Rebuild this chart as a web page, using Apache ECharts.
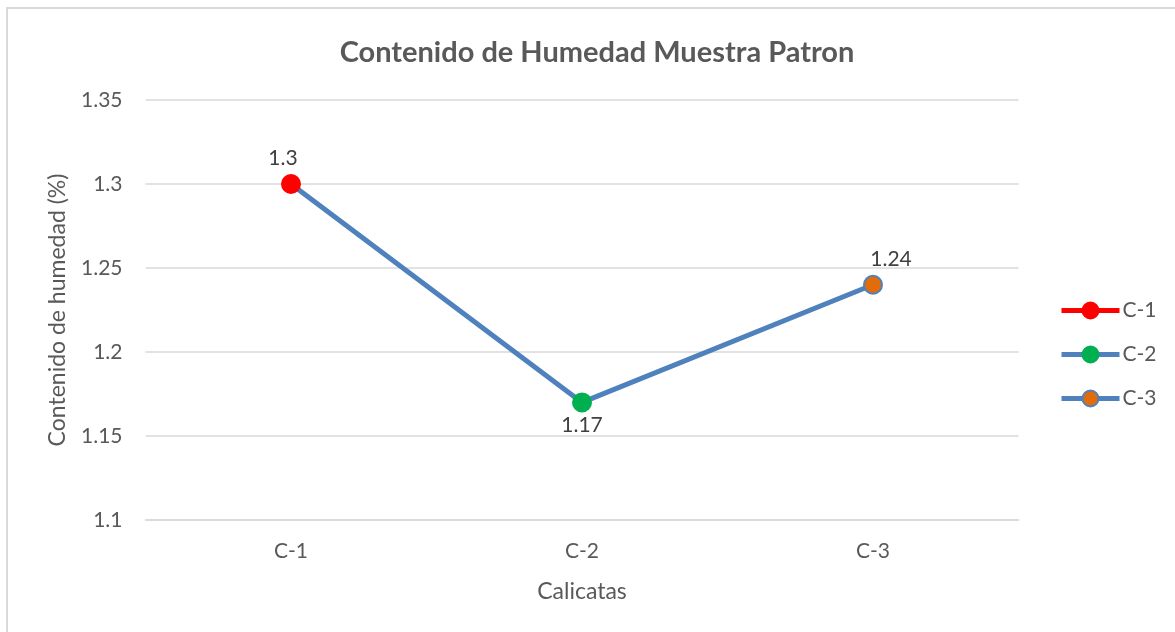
<!DOCTYPE html>
<html><head><meta charset="utf-8">
<script src="https://cdn.jsdelivr.net/npm/echarts@6/dist/echarts.min.js"></script>
<style>html,body{margin:0;padding:0;background:#fff;}#c{width:1175px;height:632px;}</style>
</head><body><div id="c"></div>
<script>
const categories = ['C-1', 'C-2', 'C-3'];
const values = [1.3, 1.17, 1.24];
const pointColors = ['#FF0000', '#00B050', '#E36C0A'];
const pointBorders = ['#FF0000', '#00B050', '#4F81BD'];
const legendLineColors = ['#FF0000', '#4F81BD', '#4F81BD'];
const yTicks = [1.1, 1.15, 1.2, 1.25, 1.3, 1.35];
const labelPositions = ['top', 'bottom', 'top'];
const labelOffsets = [[-8, 0], [0, -3], [18, 0]];

const FONT = 'Lato';
const TXT = '#595959';
const chart = echarts.init(document.getElementById('c'));

const dataPoints = values.map((v, i) => ({
  value: v,
  itemStyle: { color: pointColors[i], borderColor: pointBorders[i], borderWidth: 2 },
  label: { position: labelPositions[i], offset: labelOffsets[i] }
}));

const legendSeries = categories.map((c, i) => ({
  name: c, type: 'line', data: [],
  symbol: 'circle', symbolSize: 14,
  lineStyle: { color: legendLineColors[i], width: 5 },
  itemStyle: { color: pointColors[i], borderColor: pointBorders[i], borderWidth: 2 }
}));

chart.setOption({
  animation: false,
  backgroundColor: '#fff',
  textStyle: { fontFamily: FONT },
  graphic: [{ type: 'rect', shape: { x: 7, y: 8, width: 1300, height: 800 },
    style: { fill: 'none', stroke: '#d9d9d9', lineWidth: 2 }, silent: true }],
  title: { text: 'Contenido de Humedad Muestra Patron', left: 592, top: 33, textAlign: 'center',
    textStyle: { fontFamily: FONT, fontSize: 29, fontWeight: 'bold', color: TXT } },
  legend: { orient: 'vertical', left: 1054, top: 295, itemGap: 23, itemWidth: 58, itemHeight: 20,
    lineStyle: { width: 5 },
    data: categories, textStyle: { fontFamily: FONT, fontSize: 21, color: TXT, padding: [0, 0, 0, -2] } },
  grid: { left: 145.5, right: 156.5, top: 100, bottom: 112, containLabel: false },
  xAxis: { type: 'category', data: categories, boundaryGap: true,
    name: 'Calicatas', nameLocation: 'middle', nameGap: 60,
    nameTextStyle: { fontFamily: FONT, fontSize: 23, color: TXT },
    axisLine: { show: true, lineStyle: { color: '#d9d9d9', width: 1.5 } },
    axisTick: { show: false },
    axisLabel: { fontFamily: FONT, fontSize: 21, color: TXT, margin: 21 } },
  yAxis: { type: 'value', min: 1.1, max: 1.35, interval: 0.05,
    name: 'Contenido de humedad (%)', nameLocation: 'middle', nameGap: 76, nameRotate: 90,
    nameTextStyle: { fontFamily: FONT, fontSize: 23, color: TXT },
    axisLine: { show: false }, axisTick: { show: false },
    splitLine: { lineStyle: { color: '#d9d9d9', width: 1.5 } },
    axisLabel: { fontFamily: FONT, fontSize: 21, color: TXT, margin: 23,
      formatter: v => { const t = yTicks.find(x => Math.abs(x - v) < 1e-9); return t !== undefined ? String(t) : ''; } } },
  series: [{
    name: 'Contenido', type: 'line', data: dataPoints,
    symbol: 'circle', symbolSize: 18,
    lineStyle: { color: '#4F81BD', width: 5 },
    label: { show: true, fontFamily: FONT, fontSize: 21, color: '#404040', distance: 5,
      formatter: p => String(p.value) },
    z: 5
  }].concat(legendSeries)
});
</script></body></html>
